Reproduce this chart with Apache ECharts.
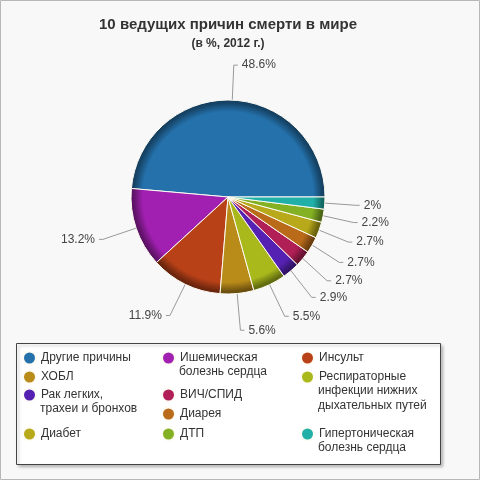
<!DOCTYPE html>
<html>
<head>
<meta charset="utf-8">
<script src="https://cdn.jsdelivr.net/npm/echarts@6/dist/echarts.min.js"></script>
<style>
  html, body { margin: 0; padding: 0; background: #f8f8f8; }
  #chart { width: 480px; height: 480px; }
</style>
</head>
<body>
<div id="chart"></div>
<script>
const causes = [
  'Другие причины',
  'Ишемическая болезнь сердца',
  'Инсульт',
  'ХОБЛ',
  'Респираторные инфекции нижних дыхательных путей',
  'Рак легких, трахеи и бронхов',
  'ВИЧ/СПИД',
  'Диарея',
  'Диабет',
  'ДТП',
  'Гипертоническая болезнь сердца',
]
const shares = [48.6, 13.2, 11.9, 5.6, 5.5, 2.9, 2.7, 2.7, 2.7, 2.2, 2]
// как подписи переносятся в легенде
const legendText = [
  'Другие причины',
  'Ишемическая\nболезнь сердца',
  'Инсульт',
  'ХОБЛ',
  'Респираторные\nинфекции нижних\nдыхательных путей',
  'Рак легких,\nтрахеи и бронхов',
  'ВИЧ/СПИД',
  'Диарея',
  'Диабет',
  'ДТП',
  'Гипертоническая\nболезнь сердца',
]
const colors = [
  '#2471AB',
  '#A120B1',
  '#B94118',
  '#B98B19',
  '#A9B91C',
  '#5521B2',
  '#B01F55',
  '#B96B19',
  '#B8A91A',
  '#84B024',
  '#21B0A8',
]

const font = '"Liberation Sans", Arial, sans-serif'
const pieCenter = [228, 197]
const pieRadius = 97
const lineGap = 15
// [левый край значка, центр первой строки]
const slots = [
  [22, 357], [161, 357], [300, 357],
  [22, 376], [300, 376],
  [22, 394], [161, 394],
  [161, 413],
  [22, 433], [161, 433], [300, 433],
]

function darken(c, k) {
  const rgb = echarts.color.parse(c)
  return 'rgb(' + [0, 1, 2].map((i) => Math.round(rgb[i] * k)).join(',') + ')'
}

function shade(c) {
  // тёмный ободок по краю круга
  return {
    type: 'radial',
    x: pieCenter[0],
    y: pieCenter[1],
    r: pieRadius,
    global: true,
    colorStops: [
      { offset: 0, color: c },
      { offset: 0.88, color: c },
      { offset: 0.97, color: darken(c, 0.6) },
      { offset: 1, color: darken(c, 0.55) },
    ],
  }
}

const myChart = echarts.init(document.getElementById('chart'))

const legends = causes.map((name, i) => {
  return {
    left: slots[i][0],
    top: slots[i][1] - 6.5,
    padding: 0,
    icon: 'circle',
    itemWidth: 13,
    itemHeight: 13,
    selectedMode: false,
    data: [{ name, itemStyle: { color: colors[i] } }],
    formatter: () => legendText[i].split('\n')[0],
    textStyle: { fontSize: 12, color: '#333', fontFamily: font },
    z: 5,
  }
})

const graphics = [
  {
    type: 'rect',
    z: -10,
    shape: { x: 0.5, y: 0.5, width: 479, height: 479 },
    style: { fill: null, stroke: '#b8b8b8', lineWidth: 1 },
  },
  {
    type: 'rect',
    z: -5,
    shape: { x: 16.5, y: 343.5, width: 424, height: 121 },
    style: {
      fill: '#fff',
      stroke: '#444',
      lineWidth: 1,
      shadowBlur: 3,
      shadowOffsetX: 2,
      shadowOffsetY: 2,
      shadowColor: 'rgba(0,0,0,0.25)',
    },
  },
]
legendText.forEach((t, i) => {
  t.split('\n').slice(1).forEach((line, k) => {
    graphics.push({
      type: 'text',
      z: 10,
      x: slots[i][0] + 18,
      y: slots[i][1] + lineGap * (k + 1),
      style: {
        text: line,
        fill: '#333',
        font: '12px ' + font,
        verticalAlign: 'middle',
      },
    })
  })
})

const option = {
  backgroundColor: '#f8f8f8',
  animation: false,
  title: {
    text: '10 ведущих причин смерти в мире',
    subtext: '(в %, 2012 г.)',
    left: 228,
    top: 16,
    textAlign: 'center',
    itemGap: 3,
    padding: 0,
    textStyle: { fontSize: 15, fontWeight: 'bold', color: '#333', fontFamily: font, lineHeight: 18 },
    subtextStyle: { fontSize: 12, fontWeight: 'bold', color: '#333', fontFamily: font, lineHeight: 14 },
  },
  legend: legends,
  graphic: graphics,
  series: [
    {
      type: 'pie',
      center: pieCenter,
      radius: pieRadius,
      startAngle: 0,
      clockwise: false,
      itemStyle: { borderColor: '#fdfbf3', borderWidth: 1 },
      label: {
        formatter: '{c}%',
        fontSize: 12,
        color: '#444',
        fontFamily: font,
        distanceToLabelLine: 4,
      },
      labelLine: {
        length: 35,
        length2: 4,
        lineStyle: { color: '#999', width: 1 },
      },
      emphasis: { scale: false },
      data: causes.map((name, i) => {
        return {
          name,
          value: shares[i],
          itemStyle: { color: shade(colors[i]) },
        }
      }),
    },
  ],
}
myChart.setOption(option, true)
</script>
</body>
</html>
